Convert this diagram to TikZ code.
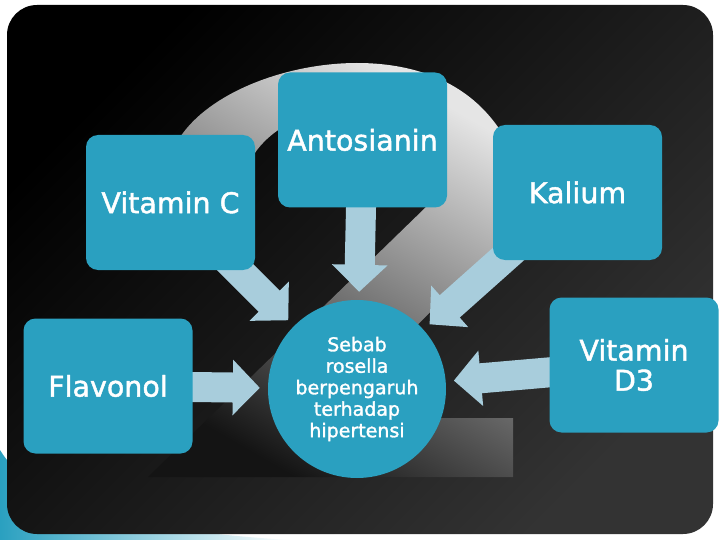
\documentclass[tikz,border=0pt]{standalone}
\usepackage{fontspec}
\setsansfont{DejaVu Sans}[FakeBold=1.5]
\usepackage{tikz}
\usetikzlibrary{arrows.meta,positioning,shapes.geometric}
\definecolor{tealbox}{RGB}{42,160,192}
\definecolor{flowblue}{RGB}{168,205,220}
\pgfdeclarelayer{back}
\pgfdeclarelayer{flows}
\pgfsetlayers{back,flows,main}

\begin{document}
\begin{tikzpicture}[
    x=1pt, y=-1pt,
    node distance=200pt,
    font=\sffamily,
    factor/.style={
		rectangle,
		rounded corners=12pt,
		fill=tealbox,
		text=white,
		minimum width=169pt,
		minimum height=135pt,
		inner sep=0pt,
		align=center,
		font=\sffamily\fontsize{28.5}{30}\selectfont
	},
	cause/.style={
		circle,
		fill=tealbox,
		text=white,
		minimum size=178pt,
		inner sep=0pt,
		align=center,
		font=\sffamily\fontsize{19}{21.5}\selectfont
	},
	flow/.style={
		draw=flowblue,
		line width=30pt,
		-{Triangle[width=54pt,length=27pt]},
		shorten >=8pt
	}
  ]
  \useasboundingbox (0,0) rectangle (720,540);

  % background, the slide frame and the big 2
  \begin{pgfonlayer}{back}
  \fill [white] (0,0) rectangle (720,540);
  \shade [left color=tealbox, right color=white]
    (0,450) .. controls (30,500) and (120,530) .. (290,540) -- (0,540) -- cycle;
  \shade [rounded corners=30pt, top color=black, bottom color=black!80, shading angle=45]
    (7,5) rectangle (713,534);
  \shade [top color=black!10, bottom color=black!92, shading angle=-30]
    (148,477) -- (513,477) -- (513,418) -- (325,418) -- (490,252)
    .. controls (520,220) and (525,165) .. (500,130)
    .. controls (470,85) and (420,63) .. (357,63)
    .. controls (290,63) and (215,90) .. (183,133)
    .. controls (170,150) and (168,165) .. (175,185)
    -- (240,185)
    .. controls (245,170) and (250,160) .. (257,150)
    .. controls (280,120) and (320,108) .. (357,108)
    .. controls (410,108) and (450,140) .. (440,180)
    .. controls (436,195) and (430,202) .. (425,208)
    -- cycle;
  \end{pgfonlayer}

  % We start by placing the blocks
  \node [cause] (cause) at (357,389)
    {Sebab\\rosella\\berpengaruh\\terhadap\\hipertensi};

  \node [factor, above of=cause, node distance=249pt, xshift=5.5pt] (anto) {Antosianin};
  \node [factor, above of=cause, node distance=186.5pt, xshift=-186.5pt] (vitc) {Vitamin C};
  \node [factor, above of=cause, node distance=196.5pt, xshift=220.5pt] (kal) {Kalium};
  \node [factor, left of=cause, node distance=249pt, yshift=3pt] (flav) {Flavonol};
  \node [factor, right of=cause, node distance=277pt, yshift=24pt] (vitd) {Vitamin\\D3};

  % then the arrows into the circle
  \begin{pgfonlayer}{flows}
  \draw [flow] (anto.center) -- (cause);
  \draw [flow] (vitc.center) -- (cause);
  \draw [flow] (kal.center) -- (cause);
  \draw [flow] (flav.center) -- (cause);
  \draw [flow] (vitd.center) -- (cause);
  \end{pgfonlayer}

\end{tikzpicture}
\end{document}
